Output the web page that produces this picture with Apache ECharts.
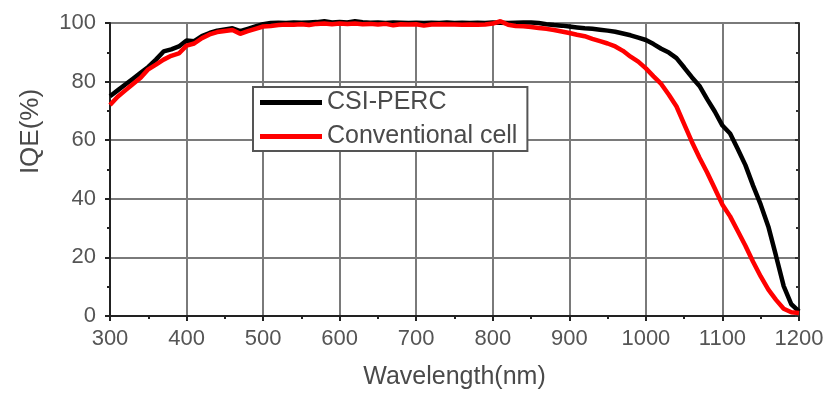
<!DOCTYPE html>
<html>
<head>
<meta charset="utf-8">
<script src="https://cdn.jsdelivr.net/npm/echarts@6/dist/echarts.min.js"></script>
<style>
html,body{margin:0;padding:0;background:#fff;}
#chart{width:836px;height:395px;}
</style>
</head>
<body>
<div id="chart"></div>
<script>
const wavelengths = [300,310,320,330,340,350,360,370,380,390,400,410,420,430,440,450,460,470,480,490,500,510,520,530,540,550,560,570,580,590,600,610,620,630,640,650,660,670,680,690,700,710,720,730,740,750,760,770,780,790,800,810,820,830,840,850,860,870,880,890,900,910,920,930,940,950,960,970,980,990,1000,1010,1020,1030,1040,1050,1060,1070,1080,1090,1100,1110,1120,1130,1140,1150,1160,1170,1180,1190,1200];
const csiPerc = [75.0,77.0,79.0,81.0,83.0,85.0,87.5,90.3,91.0,92.0,94.0,93.8,95.5,96.6,97.4,97.8,98.2,97.2,98.0,98.8,99.6,100.0,100.1,100.0,100.2,100.1,100.2,100.3,100.6,100.2,100.3,100.2,100.6,100.3,100.1,100.2,100.0,100.2,100.1,100.0,100.1,100.0,100.1,100.0,100.2,100.0,100.1,100.0,100.1,100.0,100.2,100.1,100.0,100.1,100.2,100.2,100.0,99.6,99.3,99.1,98.8,98.5,98.2,98.0,97.7,97.4,97.0,96.4,95.8,95.0,94.2,92.8,91.2,89.9,88.0,84.8,81.5,78.5,74.0,69.8,65.0,62.3,57.0,51.5,44.5,38.0,30.5,20.5,10.2,4.0,1.6];
const conventional = [72.0,74.8,77.0,79.2,81.3,84.2,85.8,87.5,88.8,89.6,92.3,93.0,94.8,96.1,96.9,97.3,97.6,96.3,97.2,98.0,98.8,99.0,99.3,99.5,99.4,99.6,99.3,99.7,99.8,99.6,99.8,99.7,99.8,99.6,99.7,99.5,99.7,99.2,99.6,99.5,99.6,99.1,99.5,99.6,99.5,99.5,99.4,99.5,99.4,99.5,99.8,100.6,99.4,99.0,98.9,98.6,98.3,98.0,97.6,97.1,96.6,96.0,95.5,94.6,93.8,93.0,92.0,90.5,88.5,86.8,84.5,81.8,79.2,75.5,71.5,65.5,59.5,54.0,49.0,43.5,38.0,34.0,29.0,24.0,18.5,13.5,9.0,5.5,2.5,1.3,1.0];
const seriesNames = ['CSI-PERC', 'Conventional cell'];
const xTicks = {min: 300, max: 1200, step: 100};
const yTicks = {min: 0, max: 100, step: 20};

const pairs = (vals) => wavelengths.map((w, i) => [w, vals[i]]);
const font = 'Liberation Sans, Arial, sans-serif';
const plain = (v) => String(v);
const chart = echarts.init(document.getElementById('chart'), null, {renderer: 'canvas'});
chart.setOption({
  backgroundColor: '#ffffff',
  animation: false,
  grid: {left: 110, right: 37, top: 23, bottom: 77},
  legend: {
    orient: 'vertical',
    left: 253, top: 87,
    padding: [3, 10, 2, 7],
    itemGap: 9,
    itemWidth: 62, itemHeight: 5,
    icon: 'rect',
    backgroundColor: '#ffffff',
    borderColor: '#555555', borderWidth: 2,
    textStyle: {fontFamily: font, fontSize: 25, color: '#4a4a4a'},
    data: seriesNames
  },
  xAxis: {
    type: 'value', min: xTicks.min, max: xTicks.max, interval: xTicks.step,
    name: 'Wavelength(nm)', nameLocation: 'middle', nameGap: 49,
    nameTextStyle: {fontFamily: font, fontSize: 25, color: '#4a4a4a'},
    axisLine: {show: true, onZero: false, lineStyle: {color: '#222', width: 2}},
    axisTick: {show: true, inside: false, length: 5, lineStyle: {color: '#222', width: 2}},
    minorTick: {show: true, splitNumber: 2, length: 3, lineStyle: {color: '#222', width: 2}},
    axisLabel: {fontFamily: font, fontSize: 22, color: '#555', margin: 12, formatter: plain},
    splitLine: {show: true, lineStyle: {color: '#7a7a7a', width: 2}}
  },
  yAxis: [{
    type: 'value', min: yTicks.min, max: yTicks.max, interval: yTicks.step,
    name: 'IQE(%)', nameLocation: 'middle', nameGap: 66, nameRotate: 90,
    nameTextStyle: {fontFamily: font, fontSize: 26, color: '#4a4a4a', padding: [0, 0, 0, 76]},
    axisLine: {show: true, onZero: false, lineStyle: {color: '#222', width: 2}},
    axisTick: {show: true, inside: false, length: 5, lineStyle: {color: '#222', width: 2}},
    minorTick: {show: true, splitNumber: 2, length: 3, lineStyle: {color: '#222', width: 2}},
    axisLabel: {fontFamily: font, fontSize: 22, color: '#555', margin: 14, formatter: plain},
    splitLine: {show: true, lineStyle: {color: '#7a7a7a', width: 2}}
  }, {
    type: 'value', position: 'right', min: yTicks.min, max: yTicks.max, interval: yTicks.step,
    axisLine: {show: true, onZero: false, lineStyle: {color: '#333', width: 2}},
    axisTick: {show: true, inside: true, length: 4, lineStyle: {color: '#333', width: 2}},
    minorTick: {show: true, splitNumber: 2, length: 3, lineStyle: {color: '#333', width: 2}},
    axisLabel: {show: false},
    splitLine: {show: false}
  }],
  series: [{
    name: seriesNames[0], type: 'line', data: pairs(csiPerc),
    showSymbol: false, symbol: 'none', clip: false, z: 3,
    color: '#000000',
    lineStyle: {color: '#000000', width: 4.5}
  }, {
    name: seriesNames[1], type: 'line', data: pairs(conventional),
    showSymbol: false, symbol: 'none', clip: false, z: 4,
    color: '#ff0000',
    lineStyle: {color: '#ff0000', width: 4.5}
  }]
});
</script>
</body>
</html>
